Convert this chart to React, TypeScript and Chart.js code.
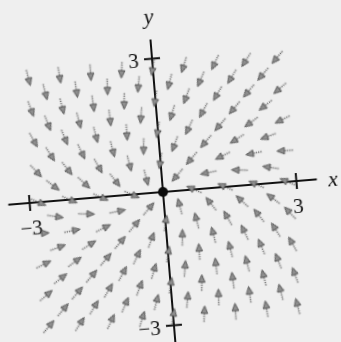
import { useEffect, useRef } from "react";
import { Chart, registerables } from "chart.js";

Chart.register(...registerables);

// Sample rows of the direction field (y value of each row, top to bottom).
const rowY = [2.8, 2.45, 2.1, 1.75, 1.4, 1.05, 0.7, 0.35, 0, -0.35, -0.7, -1.05, -1.4, -1.75, -2.1, -2.45, -2.8];
// Rows alternate between these two sets of x positions (staggered grid).
const evenRowX = [-2.8, -2.1, -1.4, -0.7, 0, 0.7, 1.4, 2.1, 2.8];
const oddRowX = [-2.45, -1.75, -1.05, -0.35, 0.35, 1.05, 1.75, 2.45];
// Arrow headings in degrees, counter-clockwise from +x; null = no arrow (origin).
const headingRows: (number | null)[][] = [
  [280, 275, 269, 263, 256, 248, 240, 232, 225],
  [280, 274, 267, 260, 251, 242, 234, 225],
  [286, 280, 273, 265, 256, 245, 235, 225, 216],
  [287, 280, 272, 261, 249, 237, 225, 214],
  [295, 288, 280, 269, 256, 240, 225, 212, 202],
  [298, 291, 280, 265, 245, 225, 208, 196],
  [309, 304, 295, 280, 256, 225, 202, 187, 179],
  [318, 313, 304, 280, 225, 187, 174, 167],
  [332, 332, 332, 332, null, 152, 152, 152, 152],
  [347, 354, 7, 45, 100, 124, 133, 138],
  [359, 7, 22, 45, 76, 100, 115, 124, 129],
  [16, 28, 45, 65, 85, 100, 111, 118],
  [22, 32, 45, 60, 76, 89, 100, 108, 115],
  [34, 45, 57, 69, 81, 92, 100, 107],
  [36, 45, 55, 65, 76, 85, 93, 100, 106],
  [45, 54, 62, 71, 80, 87, 94, 100],
  [45, 52, 60, 68, 76, 83, 89, 95, 100],
];

const tickValues = [-3, 3];
const tickLabels = ["\u22123", "3"];
const axisNames = ["x", "y"];

// Axis extents in data units.
const X_MIN = -3.48;
const X_MAX = 3.46;
const Y_MIN = -4.2;
const Y_MAX = 3.43;

// Layout constants.
const VIEW_W = 341;
const VIEW_H = 342;
const CANVAS = 420;
const ORIGIN_LEFT = 163;
const ORIGIN_TOP = 192;
const UNIT = 44.6; // px per unit
const TILT = -4.7; // degrees
const TICK_HALF = 0.18;

function makeArrowImage(): HTMLCanvasElement {
  const c = document.createElement("canvas");
  c.width = 17;
  c.height = 9;
  const g = c.getContext("2d")!;
  // dotted shaft
  g.strokeStyle = "#5c5c5c";
  g.lineWidth = 1.3;
  g.setLineDash([1.2, 1.1]);
  g.beginPath();
  g.moveTo(0.5, 4.5);
  g.lineTo(9.5, 4.5);
  g.stroke();
  g.setLineDash([]);
  // head
  g.beginPath();
  g.moveTo(9, 1.2);
  g.lineTo(16.5, 4.5);
  g.lineTo(9, 7.8);
  g.closePath();
  g.fillStyle = "#8f8f8f";
  g.fill();
  g.strokeStyle = "#4a4a4a";
  g.lineWidth = 0.9;
  g.stroke();
  return c;
}

const axesPlugin = {
  id: "fieldAxes",
  beforeDatasetsDraw(chart: any) {
    const { ctx } = chart;
    const xs = chart.scales.x;
    const ys = chart.scales.y;
    const px = (v: number) => xs.getPixelForValue(v);
    const py = (v: number) => ys.getPixelForValue(v);
    ctx.save();
    ctx.strokeStyle = "#111";
    ctx.lineWidth = 2;
    ctx.lineCap = "butt";
    ctx.beginPath();
    ctx.moveTo(px(X_MIN), py(0));
    ctx.lineTo(px(X_MAX), py(0));
    ctx.moveTo(px(0), py(Y_MAX));
    ctx.lineTo(px(0), py(Y_MIN));
    tickValues.forEach((v) => {
      ctx.moveTo(px(v), py(-TICK_HALF));
      ctx.lineTo(px(v), py(TICK_HALF));
      ctx.moveTo(px(-TICK_HALF), py(v));
      ctx.lineTo(px(TICK_HALF), py(v));
    });
    ctx.stroke();

    ctx.fillStyle = "#111";
    ctx.font = '21px "Liberation Serif", "DejaVu Serif", serif';
    ctx.textBaseline = "middle";
    tickValues.forEach((v, i) => {
      ctx.textAlign = "center";
      ctx.fillText(tickLabels[i], px(v), py(-0.6));
      ctx.textAlign = "right";
      ctx.fillText(tickLabels[i], px(-0.3), py(v - 0.06));
    });
    ctx.font = 'italic 22px "Liberation Serif", "DejaVu Serif", serif';
    ctx.textAlign = "center";
    ctx.fillText(axisNames[0], px(3.82), py(-0.05));
    ctx.fillText(axisNames[1], px(0.0), py(3.92));
    ctx.restore();
  },
  afterDatasetsDraw(chart: any) {
    const { ctx } = chart;
    const x0 = chart.scales.x.getPixelForValue(0);
    const y0 = chart.scales.y.getPixelForValue(0);
    ctx.save();
    ctx.fillStyle = "#0a0a0a";
    ctx.beginPath();
    ctx.arc(x0, y0, 5, 0, Math.PI * 2);
    ctx.fill();
    ctx.restore();
  },
};

export default function App() {
  const ref = useRef<HTMLCanvasElement | null>(null);

  useEffect(() => {
    if (!ref.current) return;
    const points: { x: number; y: number }[] = [];
    const rotations: number[] = [];
    rowY.forEach((y, r) => {
      const xs = r % 2 === 0 ? evenRowX : oddRowX;
      headingRows[r].forEach((h, i) => {
        if (h === null) return;
        points.push({ x: xs[i], y });
        rotations.push(-h);
      });
    });
    const arrow = makeArrowImage();
    const half = CANVAS / 2;
    const chart = new Chart(ref.current, {
      type: "scatter",
      data: {
        datasets: [
          {
            data: points,
            pointStyle: arrow as any,
            pointRotation: rotations,
            pointRadius: 8,
            clip: false as any,
          },
        ],
      },
      options: {
        animation: false,
        responsive: false,
        devicePixelRatio: 1,
        events: [],
        layout: {
          padding: {
            left: half + X_MIN * UNIT,
            right: half - X_MAX * UNIT,
            top: half - Y_MAX * UNIT,
            bottom: half + Y_MIN * UNIT,
          },
        },
        plugins: { legend: { display: false }, tooltip: { enabled: false }, title: { display: false } },
        scales: {
          x: { type: "linear", min: X_MIN, max: X_MAX, display: false },
          y: { type: "linear", min: Y_MIN, max: Y_MAX, display: false },
        },
      },
      plugins: [axesPlugin],
    });
    return () => chart.destroy();
  }, []);

  return (
    <div
      style={{
        position: "fixed",
        left: 0,
        top: 0,
        width: VIEW_W,
        height: VIEW_H,
        overflow: "hidden",
        background: "#efefef",
      }}
    >
      <canvas
        ref={ref}
        width={CANVAS}
        height={CANVAS}
        style={{
          position: "absolute",
          left: ORIGIN_LEFT - CANVAS / 2,
          top: ORIGIN_TOP - CANVAS / 2,
          width: CANVAS,
          height: CANVAS,
          transform: `rotate(${TILT}deg)`,
        }}
      />
    </div>
  );
}
